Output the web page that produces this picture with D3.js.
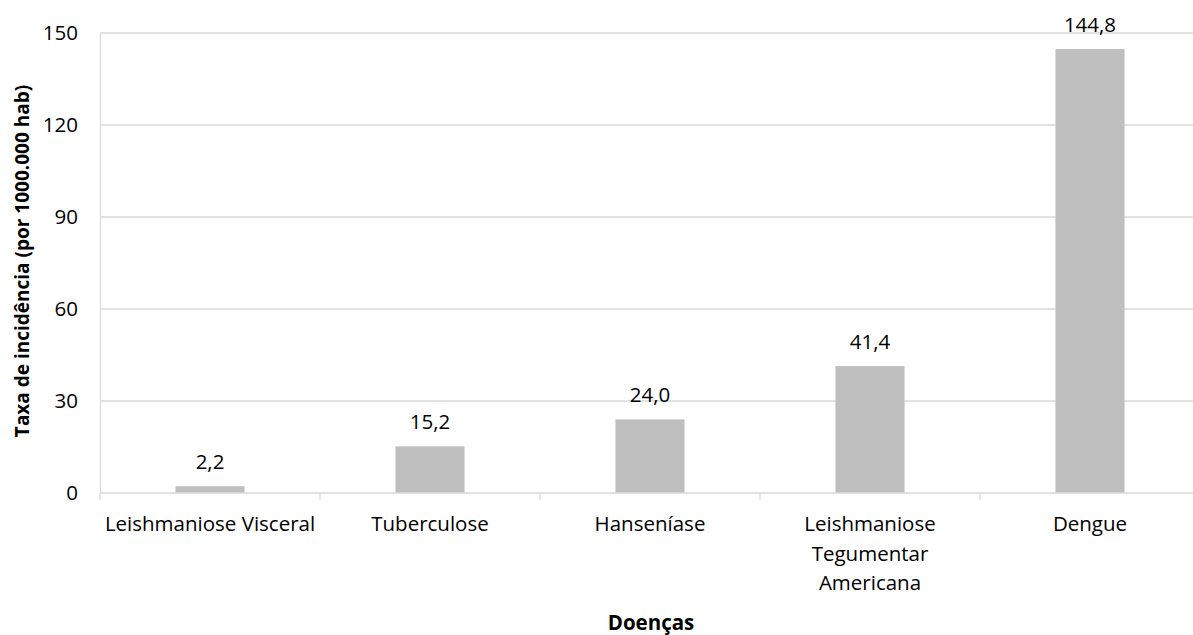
<!DOCTYPE html>
<html>
<head>
<meta charset="utf-8">
<script src="https://cdn.jsdelivr.net/npm/d3@7"></script>
<style>
  html, body { margin: 0; padding: 0; background: #fff; }
  svg { display: block; font-family: "Open Sans", "Liberation Sans", sans-serif; }
</style>
</head>
<body>
<svg id="chart" width="1193" height="635"></svg>
<script>
// Incidence rates by disease (per 100.000 inhabitants)
const categories = [
  ["Leishmaniose Visceral"],
  ["Tuberculose"],
  ["Hanseníase"],
  ["Leishmaniose", "Tegumentar", "Americana"],
  ["Dengue"]
];
const values = [2.2, 15.2, 24.0, 41.4, 144.8];
const yTicks = [0, 30, 60, 90, 120, 150];
const yTitle = "Taxa de incidência (por 1000.000 hab)";
const xTitle = "Doenças";

const svg = d3.select("#chart");
const margin = { left: 100, right: 1200, top: 33, bottom: 493 };
const fontSize = 20.5;

const keys = categories.map((c, i) => i);
const x = d3.scaleBand().domain(keys).range([margin.left, margin.right])
  .paddingInner(0.686).paddingOuter(0.343);
const band = d3.scaleBand().domain(keys).range([margin.left, margin.right]);
const y = d3.scaleLinear().domain([0, 150]).range([margin.bottom, margin.top]);

const fmt = v => d3.format(".1f")(v).replace(".", ",");

// Horizontal gridlines
svg.append("g")
  .selectAll("line")
  .data(yTicks.filter(t => t > 0))
  .join("line")
  .attr("x1", margin.left).attr("x2", margin.right)
  .attr("y1", d => y(d)).attr("y2", d => y(d))
  .attr("stroke", "#d9d9d9").attr("stroke-width", 1.3);

// Y axis
const yAxis = svg.append("g")
  .attr("transform", `translate(${margin.left},0)`)
  .call(d3.axisLeft(y).tickValues(yTicks).tickSize(0).tickPadding(22));
yAxis.select(".domain").attr("stroke", "#d9d9d9").attr("stroke-width", 1.3);
yAxis.selectAll("text").attr("font-size", fontSize).attr("fill", "#000")
  .attr("font-family", "'Open Sans', sans-serif");

// Bars
svg.append("g")
  .selectAll("rect")
  .data(values)
  .join("rect")
  .attr("x", (d, i) => x(i))
  .attr("width", x.bandwidth())
  .attr("y", d => y(d))
  .attr("height", d => y(0) - y(d))
  .attr("fill", "#bfbfbf");

// Value labels
svg.append("g")
  .selectAll("text")
  .data(values)
  .join("text")
  .attr("x", (d, i) => x(i) + x.bandwidth() / 2)
  .attr("y", d => y(d) - 17)
  .attr("text-anchor", "middle")
  .attr("font-size", fontSize)
  .attr("fill", "#000")
  .text(d => fmt(d));

// X axis with category tick marks at band boundaries
const xAxis = svg.append("g").attr("transform", `translate(0,${margin.bottom})`);
xAxis.append("line")
  .attr("x1", margin.left).attr("x2", margin.right)
  .attr("stroke", "#d9d9d9").attr("stroke-width", 1.3);
xAxis.selectAll("line.tick")
  .data(keys.concat([keys.length]))
  .join("line")
  .attr("class", "tick")
  .attr("x1", d => d < keys.length ? band(d) : margin.right)
  .attr("x2", d => d < keys.length ? band(d) : margin.right)
  .attr("y1", 0).attr("y2", 7)
  .attr("stroke", "#d9d9d9").attr("stroke-width", 1.3);

const labels = xAxis.selectAll("text.cat")
  .data(categories)
  .join("text")
  .attr("class", "cat")
  .attr("x", (d, i) => band(i) + band.bandwidth() / 2)
  .attr("y", 38)
  .attr("text-anchor", "middle")
  .attr("font-size", fontSize)
  .attr("fill", "#000");
labels.selectAll("tspan")
  .data(d => d)
  .join("tspan")
  .attr("x", function () { return this.parentNode.getAttribute("x"); })
  .attr("dy", (d, i) => i === 0 ? 0 : 29.5)
  .text(d => d);

// Axis titles
svg.append("text")
  .attr("transform", `translate(29,${(margin.top + margin.bottom) / 2 - 2}) rotate(-90)`)
  .attr("text-anchor", "middle")
  .attr("font-size", 19)
  .attr("font-weight", "bold")
  .attr("fill", "#000")
  .text(yTitle);

svg.append("text")
  .attr("x", 651)
  .attr("y", 630)
  .attr("text-anchor", "middle")
  .attr("font-size", 20.5)
  .attr("font-weight", "bold")
  .attr("fill", "#000")
  .text(xTitle);
</script>
</body>
</html>
